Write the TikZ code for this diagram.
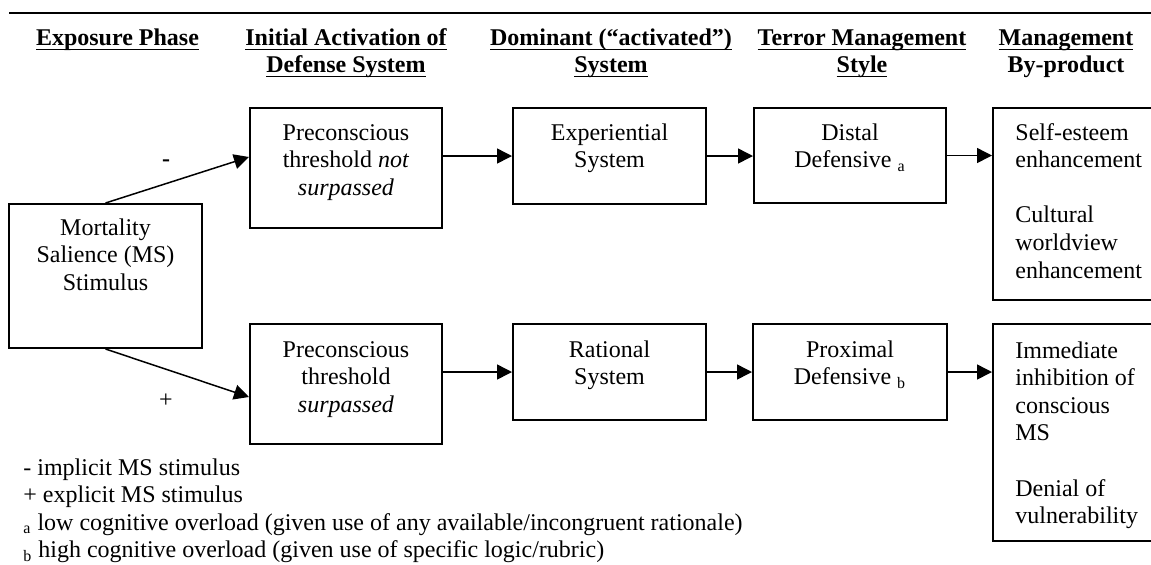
\documentclass[tikz,border=0pt]{standalone}
\usepackage{fontspec}
\setmainfont{Liberation Serif}
\usetikzlibrary{arrows.meta}
\newcommand\hul[1]{\setbox0\hbox{#1}\rlap{\rule[-2.55pt]{\wd0}{0.8pt}}\box0}
\begin{document}
\begin{tikzpicture}[x=0.5pt,y=-0.5pt,
  box/.style={draw, line width=1pt, inner sep=0pt},
  txt/.style={inner sep=0pt, font=\fontsize{12}{13.8}\selectfont, align=center, anchor=base},
  ltxt/.style={inner sep=0pt, font=\fontsize{12}{13.8}\selectfont, align=left, anchor=base west},
  hdr/.style={inner sep=0pt, font=\fontsize{12}{13.5}\selectfont\bfseries, align=center, anchor=base},
  arr/.style={line width=0.75pt, -{Triangle[length=7.5pt,width=7.5pt]}}
]
\useasboundingbox (0,0) rectangle (1151,564);
% top rule
\draw[line width=1pt] (9,13) -- (1151,13);
% headers (anchor = baseline of last line)
\node[hdr] (h1) at (117.5,45) {\hul{Exposure Phase}};
\node[hdr] (h2) at (346,72) {\hul{Initial Activation of}\\\hul{Defense System}};
\node[hdr] (h3) at (611,72) {\hul{Dominant (“activated”)}\\\hul{System}};
\node[hdr] (h4) at (862,72) {\hul{Terror Management}\\\hul{Style}};
\node[hdr] (h5) at (1066,72) {\hul{Management}\\By-product};
% boxes
\node[box, minimum width=96.5pt, minimum height=72pt] (ms) at (105.5,276) {};
\node[box, minimum width=96pt, minimum height=60pt] (pre1) at (346,168) {};
\node[box, minimum width=96.5pt, minimum height=48pt] (exp) at (609.5,156) {};
\node[box, minimum width=96pt, minimum height=47.5pt] (dist) at (850,155.5) {};
\node[box, minimum width=80.5pt, minimum height=96pt] (self) at (1073.5,204) {};
\node[box, minimum width=96pt, minimum height=60pt] (pre2) at (346,384) {};
\node[box, minimum width=96.5pt, minimum height=48pt] (rat) at (609.5,372) {};
\node[box, minimum width=97pt, minimum height=48pt] (prox) at (850,372) {};
\node[box, minimum width=80.5pt, minimum height=108.5pt] (imm) at (1073.5,432.5) {};
% box texts (anchor = baseline of last line)
\node[txt] (mst) at (105.5,290.2) {Mortality\\Salience (MS)\\Stimulus};
\node[txt] (pre1t) at (346,195.2) {Preconscious\\threshold \textit{not}\\\textit{surpassed}};
\node[txt] (expt) at (609.5,167.6) {Experiential\\System};
\node[txt] (distt) at (850,167.6) {Distal\\Defensive \textsubscript{a}};
\node[ltxt] (selft) at (1015,278) {Self-esteem\\enhancement\\[13.8pt]Cultural\\worldview\\enhancement};
\node[txt] (pre2t) at (346,412.2) {Preconscious\\threshold\\\textit{surpassed}};
\node[txt] (ratt) at (609.5,384.6) {Rational\\System};
\node[txt] (proxt) at (850,384.6) {Proximal\\Defensive \textsubscript{b}};
\node[ltxt] (immt) at (1015,523.6) {Immediate\\inhibition of\\conscious\\MS\\[13.8pt]Denial of\\vulnerability};
% connectors
\draw[arr] (ms.north) -- ([yshift=5.5pt]pre1.west);
\draw[arr] (ms.south) -- ([yshift=-6.5pt]pre2.west);
\draw[arr] (pre1.east |- exp.west) -- (exp.west);
\draw[arr] (exp.east) -- (dist.west |- exp.east);
\draw[arr] (dist.east) -- (self.west |- dist.east);
\draw[arr] (pre2.east |- rat.west) -- (rat.west);
\draw[arr] (rat.east) -- (prox.west);
\draw[arr] (prox.east) -- (imm.west |- prox.east);
% signs
\node[inner sep=0pt, font=\fontsize{12}{13.8}\selectfont\bfseries] (minus) at (166,163) {-};
\node[inner sep=0pt, font=\fontsize{12}{13.8}\selectfont] (plus) at (166,401) {+};
% footnotes
\node[ltxt] (notes) at (23,557.8) {- implicit MS stimulus\\+ explicit MS stimulus\\\textsubscript{a} low cognitive overload (given use of any available/incongruent rationale)\\\textsubscript{b} high cognitive overload (given use of specific logic/rubric)};
\end{tikzpicture}
\end{document}
